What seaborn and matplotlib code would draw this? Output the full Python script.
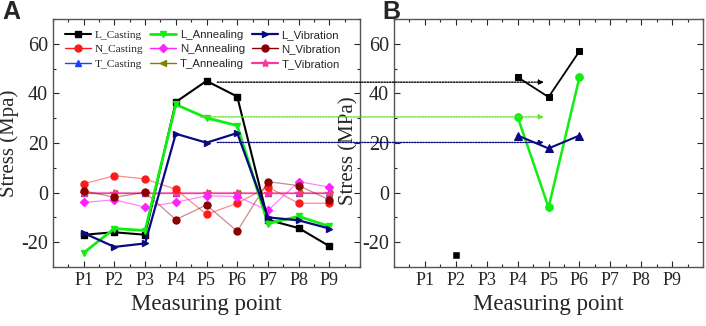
import seaborn as sns
import matplotlib.pyplot as plt
import numpy as np
from matplotlib.patches import ConnectionPatch
from matplotlib.ticker import MultipleLocator

# measuring points
points = ['P1', 'P2', 'P3', 'P4', 'P5', 'P6', 'P7', 'P8', 'P9']
pos = np.arange(1, 10)

# panel A: stress (MPa) for each series at P1..P9
l_casting = [-17, -16, -17, 36.5, 45, 38.7, -11, -14.3, -21.6]
l_annealing = [-24.3, -14.5, -15.3, 35.5, 30.1, 27, -12.5, -9.6, -13.6]
l_vibration = [-16.3, -21.9, -20.5, 23.7, 20.1, 24, -10, -11.2, -14.5]
n_casting = [3.5, 6.8, 5.5, 1.3, -8.8, -4.3, 2.2, -4.3, -4.3]
n_annealing = [-4, -2.9, -5.9, -3.9, -1.3, -1.6, -7.2, 4.4, 2.2]
n_vibration = [0.7, -1.9, 0.1, -10.9, -5, -15.6, 4.4, 2.8, -2.9]
t_casting = [0, 0, 0, 0, 0, 0, 0, 0, 0]
t_annealing = [0, 0, 0, 0, 0, 0, 0, 0, 0]
t_vibration = [0, 0, 0, 0, 0, 0, 0, 0, 0]

# panel B: values at P4..P6 plus the lone P2 point
b_pos = [4, 5, 6]
b_casting = [46.5, 38.5, 57]
b_annealing = [30.5, -6, 46.5]
b_vibration = [23, 17.8, 23]
b_casting_p2 = -25

# dotted guides: value carried from A to B
guide_vals = [44.5, 30.5, 20.2]

sns.set_style('ticks')
plt.rcParams['font.family'] = ['Liberation Serif', 'DejaVu Serif']

fig = plt.figure(figsize=(7.06, 3.26), dpi=100)
ax_a = fig.add_axes([0.075, 0.181, 0.435, 0.761])
ax_b = fig.add_axes([0.558, 0.181, 0.438, 0.761])

series = [
    ('L_Casting', l_casting, 'black', 's', 1.5, 4.5, 1.0, 'serif'),
    ('N_Casting', n_casting, '#ff1a1a', 'o', 0.9, 5, 0.5, 'serif'),
    ('T_Casting', t_casting, '#1f3fff', '^', 0.8, 5, 0.5, 'serif'),
    ('L_Annealing', l_annealing, '#11ee11', 'v', 2.0, 5, 1.0, 'sans'),
    ('N_Annealing', n_annealing, '#ff22ff', 'D', 0.9, 4, 0.55, 'sans'),
    ('T_Annealing', t_annealing, '#808000', '<', 0.8, 5, 0.5, 'sans'),
    ('L_Vibration', l_vibration, '#0a0a80', '>', 1.6, 5, 1.0, 'sans'),
    ('N_Vibration', n_vibration, '#8b0000', 'o', 0.9, 5, 0.45, 'sans'),
    ('T_Vibration', t_vibration, '#ff3399', '*', 1.6, 6, 0.6, 'sans'),
]
# draw order so the T lines sit above and L lines on top
order = [2, 5, 8, 1, 4, 7, 0, 3, 6]
handles = {}
for i in order:
    name, vals, col, mk, lw, ms, alpha, fam = series[i]
    sns.lineplot(x=pos, y=vals, ax=ax_a, color=col, linewidth=lw, alpha=alpha)
    ax_a.plot(pos, vals, linestyle='none', marker=mk, color=col, markersize=ms,
              markeredgecolor=col)
    h, = ax_a.plot([], [], color=col, linewidth=max(lw, 1.0), marker=mk,
                   markersize=ms, label=name)
    handles[name] = h

leg = ax_a.legend(handles=[handles[s[0]] for s in series], ncol=3,
                  loc='upper left', bbox_to_anchor=(0.025, 0.975), frameon=False,
                  fontsize=8.2, handlelength=2.3, handletextpad=0.3,
                  columnspacing=0.6, labelspacing=0.42, borderaxespad=0)
for txt, s in zip(leg.get_texts(), series):
    if s[7] == 'serif':
        txt.set_family(['Liberation Serif'])
    else:
        txt.set_family(['Liberation Sans'])

# panel B
sns.lineplot(x=b_pos, y=b_casting, ax=ax_b, color='black', linewidth=1.3,
             marker='s', markersize=5, markeredgecolor='black')
sns.lineplot(x=b_pos, y=b_annealing, ax=ax_b, color='#11ee11', linewidth=1.8,
             marker='o', markersize=5.5, markeredgecolor='#11ee11')
sns.lineplot(x=b_pos, y=b_vibration, ax=ax_b, color='#0a0a80', linewidth=1.5,
             marker='^', markersize=5.5, markeredgecolor='#0a0a80')
sns.scatterplot(x=[2], y=[b_casting_p2], ax=ax_b, color='black', marker='s',
                s=22, edgecolor='black')

for ax, ylab, labx in [(ax_a, 'Stress (Mpa)', -0.112), (ax_b, 'Stress (MPa)', -0.133)]:
    ax.set_xlim(0, 10)
    ax.set_ylim(-30, 70)
    ax.set_xticks(pos)
    ax.set_xticklabels(points, fontsize=13)
    ax.set_yticks([-20, 0, 20, 40, 60])
    ax.set_yticklabels(['-20', '0', '20', '40', '60'], fontsize=14.5)
    ax.xaxis.set_minor_locator(MultipleLocator(0.5))
    ax.yaxis.set_minor_locator(MultipleLocator(10))
    ax.tick_params(which='both', direction='in', top=True, right=True, width=0.8)
    ax.tick_params(which='major', length=4)
    ax.tick_params(which='minor', length=2.5)
    ax.set_xlabel('Measuring point', fontsize=16.5, labelpad=4)
    ax.set_ylabel(ylab, fontsize=15)
    ax.yaxis.set_label_coords(labx, 0.5)
    for sp in ax.spines.values():
        sp.set_color('#555555')
        sp.set_linewidth(1.0)
ax_b.yaxis.set_label_coords(-0.115, 0.47)

# dotted guides from A to B
guide_cols = ['black', '#66dd33', '#0a0a80']
guide_start = [5.35, 4.8, 5.35]
for v, c, x0 in zip(guide_vals, guide_cols, guide_start):
    cp = ConnectionPatch(xyA=(x0, v), coordsA=ax_a.transData,
                         xyB=(4.85, v), coordsB=ax_b.transData,
                         arrowstyle='-|>', mutation_scale=7, color=c,
                         linestyle=(0, (1, 1)), linewidth=1.0)
    fig.add_artist(cp)

fig.text(0.004, 0.962, 'A', fontsize=18, fontweight='bold', family='Liberation Sans', va='center')
fig.text(0.541, 0.962, 'B', fontsize=18, fontweight='bold', family='Liberation Sans', va='center')

fig.savefig('out.png', dpi=100)
